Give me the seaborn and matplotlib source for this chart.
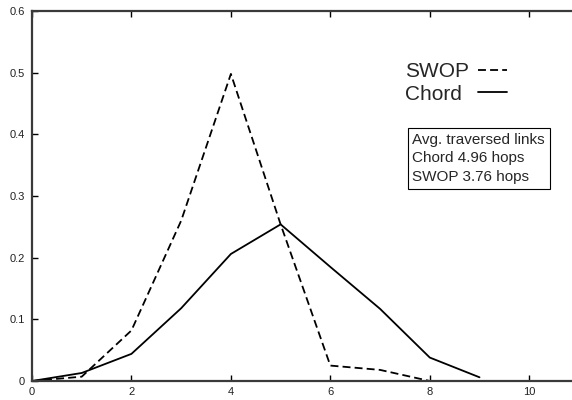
import matplotlib
matplotlib.use("Agg")
import matplotlib.pyplot as plt
import seaborn as sns
import pandas as pd

hops = [0, 1, 2, 3, 4, 5, 6, 7, 8, 9]
swop = [0.0, 0.007, 0.082, 0.26, 0.498, 0.254, 0.025, 0.018, 0.0, 0.0]
chord = [0.0, 0.013, 0.044, 0.118, 0.206, 0.254, 0.185, 0.117, 0.038, 0.006]
x_ticks = [0, 2, 4, 6, 8, 10]
y_ticks = [0, 0.1, 0.2, 0.3, 0.4, 0.5, 0.6]
y_ticklabels = ["0", "0.1", "0.2", "0.3", "0.4", "0.5", "0.6"]

sns.set_theme(style="white")
plt.rcParams['font.family'] = ['Liberation Sans', 'DejaVu Sans']

df = pd.DataFrame({"hops": hops * 2,
                   "frac": swop + chord,
                   "series": ["SWOP"] * len(hops) + ["Chord"] * len(hops)})

fig = plt.figure(figsize=(5.72, 4.0), dpi=100)
ax = fig.add_axes([32 / 572, 19 / 400, 540 / 572, 370 / 400])

sns.lineplot(data=df[df.series == "SWOP"], x="hops", y="frac", ax=ax,
             color="black", lw=1.3, label="SWOP",
             linestyle=(0, (4.4, 2.3)))
sns.lineplot(data=df[df.series == "Chord"], x="hops", y="frac", ax=ax,
             color="black", lw=1.3, label="Chord")

ax.set_xlim(0, 10.86)
ax.set_ylim(0, 0.6)
ax.set_xticks(x_ticks)
ax.set_xticklabels([str(t) for t in x_ticks])
ax.set_yticks(y_ticks)
ax.set_yticklabels(y_ticklabels)
ax.set_xlabel("")
ax.set_ylabel("")

for side in ["left", "bottom", "top"]:
    ax.spines[side].set_color("#3a3a3a")
    ax.spines[side].set_linewidth(1.6)
ax.spines["right"].set_visible(False)
ax.tick_params(axis="both", which="both", direction="in", length=4, width=1,
               color="black", labelsize=8, top=True, bottom=True, left=True,
               labelcolor="#222222")
ax.tick_params(axis="y", pad=5)
ax.tick_params(axis="x", pad=4)

leg = ax.legend(loc="upper left", bbox_to_anchor=(405 / 572, 1 - 62 / 400),
                bbox_transform=fig.transFigure, frameon=False,
                markerfirst=False, fontsize=15, handlelength=1.35,
                handletextpad=0.45, labelspacing=0.17, borderpad=0.0,
                borderaxespad=0.0)
for line in leg.get_lines():
    line.set_linewidth(1.3)
for col in leg._legend_handle_box.get_children():
    col.align = "left"

# align the line samples: widen the gap after the shorter label
fig.canvas.draw()
renderer = fig.canvas.get_renderer()
widths = [t.get_window_extent(renderer).width for t in leg.get_texts()]
wmax = max(widths)
for col in leg._legend_handle_box.get_children():
    for row in col.get_children():
        txt = row.get_children()[0]._text
        w = txt.get_window_extent(renderer).width
        row.sep = row.sep + (wmax - w) * 72.0 / fig.dpi

ax.text(412.5 / 572, 1 - 133 / 400,
        "Avg. traversed links\nChord 4.96 hops\nSWOP 3.76 hops",
        transform=fig.transFigure, fontsize=11, va="top", ha="left",
        linespacing=1.4,
        bbox=dict(boxstyle="square,pad=0.32", facecolor="white",
                  edgecolor="black", linewidth=0.8))

fig.savefig("out.png", dpi=100)
